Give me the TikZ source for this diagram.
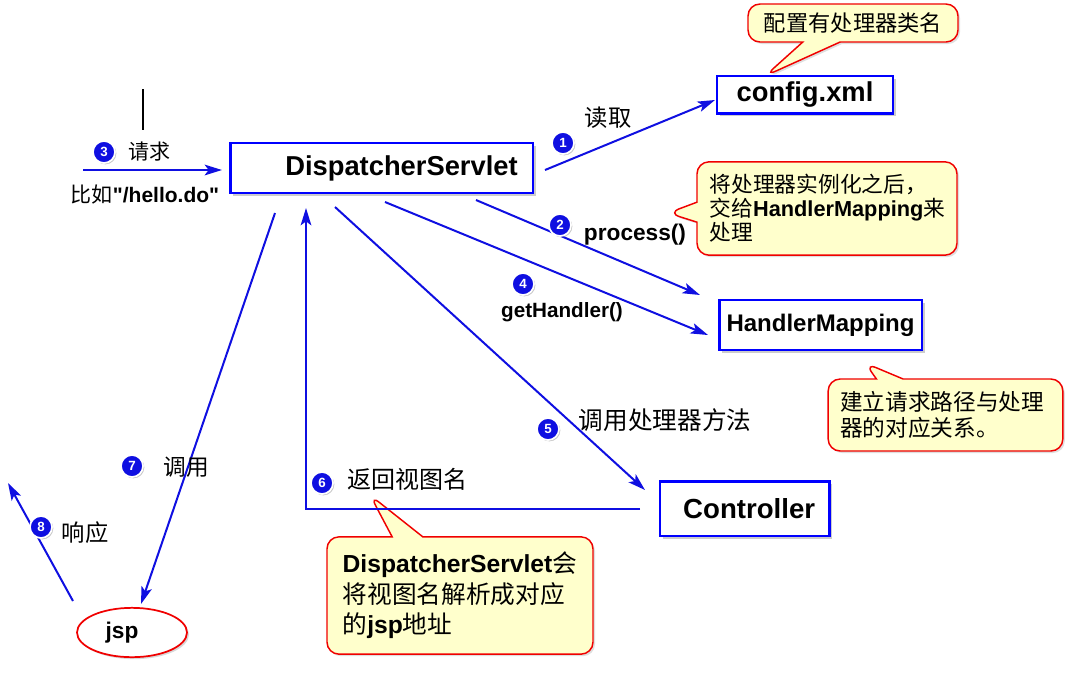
\documentclass[tikz,border=0pt]{standalone}
\usepackage{fontspec}
\setmainfont{Liberation Sans}
\newfontfamily\cjk{Noto Sans CJK SC}
\newfontfamily\plainsans{Liberation Sans}[Ligatures=TeXOff]
\usetikzlibrary{arrows.meta,shapes.geometric,shapes.callouts,shadows}
\definecolor{lineblue}{RGB}{15,15,225}
\definecolor{boxblue}{RGB}{0,0,255}
\definecolor{notefill}{RGB}{255,255,204}
\definecolor{notered}{RGB}{240,0,0}
\newcommand{\setsize}[2]{\fontsize{#1}{#2}\selectfont}
\newcommand{\lat}[1]{{\rmfamily\bfseries #1}}

\begin{document}
\begin{tikzpicture}[x=0.75pt,y=-0.75pt,
    box_node/.style={draw=boxblue,line width=2pt,fill=white,inner sep=0pt,
        font=\bfseries\setsize{#1}{#1},
        drop shadow={shadow xshift=2pt,shadow yshift=-2pt,fill=black!40}},
    note_node/.style={rectangle callout,draw=notered,line width=1.1pt,fill=notefill,
        rounded corners=9pt,align=left,inner sep=0pt,
        drop shadow={shadow xshift=1.5pt,shadow yshift=-1.5pt,fill=black!25}},
    num_node/.style={circle,fill=lineblue,draw=white,line width=1.3pt,text=white,
        font=\bfseries\setsize{10pt}{10pt},minimum size=16.5pt,inner sep=0pt,
        drop shadow={shadow xshift=1pt,shadow yshift=-1pt,fill=black!45}},
    flow/.style={draw=lineblue,line width=1.5pt,-{Stealth[length=13pt,width=8pt,inset=3pt]}},
    lbl/.style={inner sep=0pt}]
    \useasboundingbox (0,0) rectangle (1088,676);

    \node[box_node=20.5pt,minimum width=227pt,minimum height=37.5pt] (ds) at (381.5,168) {\hspace*{30pt}DispatcherServlet};
    \node[box_node=20.5pt,minimum width=132pt,minimum height=28pt] (cfg) at (805,94.5) {config.xml};
    \node[box_node=18pt,minimum width=152pt,minimum height=37.5pt] (hm) at (820.5,325) {HandlerMapping};
    \node[box_node=20.7pt,minimum width=127pt,minimum height=41pt] (ctl) at (744.5,508.5) {\hspace*{7pt}Controller};
    \node[ellipse,draw=notered,line width=1.3pt,fill=white,minimum width=82.5pt,minimum height=37pt,inner sep=0pt,
        font=\bfseries\setsize{17pt}{17pt},drop shadow={shadow xshift=1.5pt,shadow yshift=-1.5pt,fill=black!30}] (jsp) at (132,632.5) {jsp\hspace*{15pt}};

    \coordinate (cfgtip) at (765,76);
    \coordinate (hmtip) at (668,213);
    \coordinate (maptip) at (865,363);
    \coordinate (viewtip) at (370,495);
    \node[note_node,minimum width=157.5pt,minimum height=28.5pt,callout absolute pointer={(cfgtip)},
        callout pointer width=28pt,font=\cjk\setsize{16.7pt}{19pt}] (cfgnote) at (853,23) {配置有处理器类名};
    \node[note_node,minimum width=195pt,minimum height=70pt,text width=176pt,callout absolute pointer={(hmtip)},
        callout pointer width=15pt,font=\cjk\setsize{16.3pt}{18pt}] (hmnote) at (827,208.5)
        {将处理器实例化之后，\\交给\lat{HandlerMapping}来\\处理};
    \node[note_node,minimum width=176pt,minimum height=54pt,text width=158pt,callout absolute pointer={(maptip)},
        callout pointer width=20pt,font=\cjk\setsize{17pt}{19pt}] (mapnote) at (945.5,415)
        {建立请求路径与处理\\器的对应关系。};
    \node[note_node,minimum width=199.5pt,minimum height=88pt,text width=176pt,callout absolute pointer={(viewtip)},
        callout pointer width=23pt,font=\cjk\setsize{18.5pt}{23pt}] (viewnote) at (460,595.5)
        {\lat{DispatcherServlet}会\\将视图名解析成对应\\的\lat{jsp}地址};

    \coordinate (markA) at (143,89);
    \coordinate (markB) at (143,130);
    \draw[line width=0.8pt] (markA) -- (markB);

    \coordinate (reqA) at (83,170);
    \coordinate (reqB) at (222,170);
    \coordinate (readA) at (545,170);
    \coordinate (readB) at (715,100);
    \coordinate (procA) at (476,200);
    \coordinate (procB) at (700,295);
    \coordinate (getA) at (385,202);
    \coordinate (getB) at (708,335);
    \coordinate (callA) at (335,207);
    \coordinate (callB) at (645,490);
    \coordinate (retA) at (640,509);
    \coordinate (retC) at (306,509);
    \coordinate (retB) at (306,208);
    \coordinate (viewA) at (275,213);
    \coordinate (viewB) at (141,604);
    \coordinate (respA) at (73,601);
    \coordinate (respB) at (8,483);

    \draw[flow] (reqA) -- (reqB);
    \draw[flow] (readA) -- (readB);
    \draw[flow] (procA) -- (procB);
    \draw[flow] (getA) -- (getB);
    \draw[flow] (callA) -- (callB);
    \draw[flow] (retA) -- (retC) -- (retB);
    \draw[flow] (viewA) -- (viewB);
    \draw[flow] (respA) -- (respB);

    \node[num_node] (n1) at (563,143) {1};
    \node[num_node] (n2) at (560,225) {2};
    \node[num_node] (n3) at (104,152) {3};
    \node[num_node] (n4) at (523,284) {4};
    \node[num_node] (n5) at (548,429) {5};
    \node[num_node] (n6) at (322,483) {6};
    \node[num_node] (n7) at (132,466) {7};
    \node[num_node] (n8) at (41,527) {8};

    \node[lbl,font=\cjk\setsize{15.75pt}{16pt}] (req) at (149,152) {请求};
    \node[lbl,font=\setsize{15.75pt}{16pt}] (eg) at (145,195) {{\cjk 比如}{\plainsans\bfseries "/hello.do"}};
    \node[lbl,font=\cjk\setsize{17.5pt}{18pt}] (read) at (608,118) {读取};
    \node[lbl,font=\bfseries\setsize{17pt}{17pt}] (proc) at (635,235) {process()};
    \node[lbl,font=\bfseries\setsize{15.5pt}{16pt}] (geth) at (562,312) {getHandler()};
    \node[lbl,font=\cjk\setsize{18.5pt}{19pt}] (call) at (665,420) {调用处理器方法};
    \node[lbl,font=\cjk\setsize{18pt}{19pt}] (ret) at (407,479) {返回视图名};
    \node[lbl,font=\cjk\setsize{17pt}{18pt}] (view) at (186,467) {调用};
    \node[lbl,font=\cjk\setsize{17.5pt}{18pt}] (resp) at (85,533) {响应};
\end{tikzpicture}
\end{document}
